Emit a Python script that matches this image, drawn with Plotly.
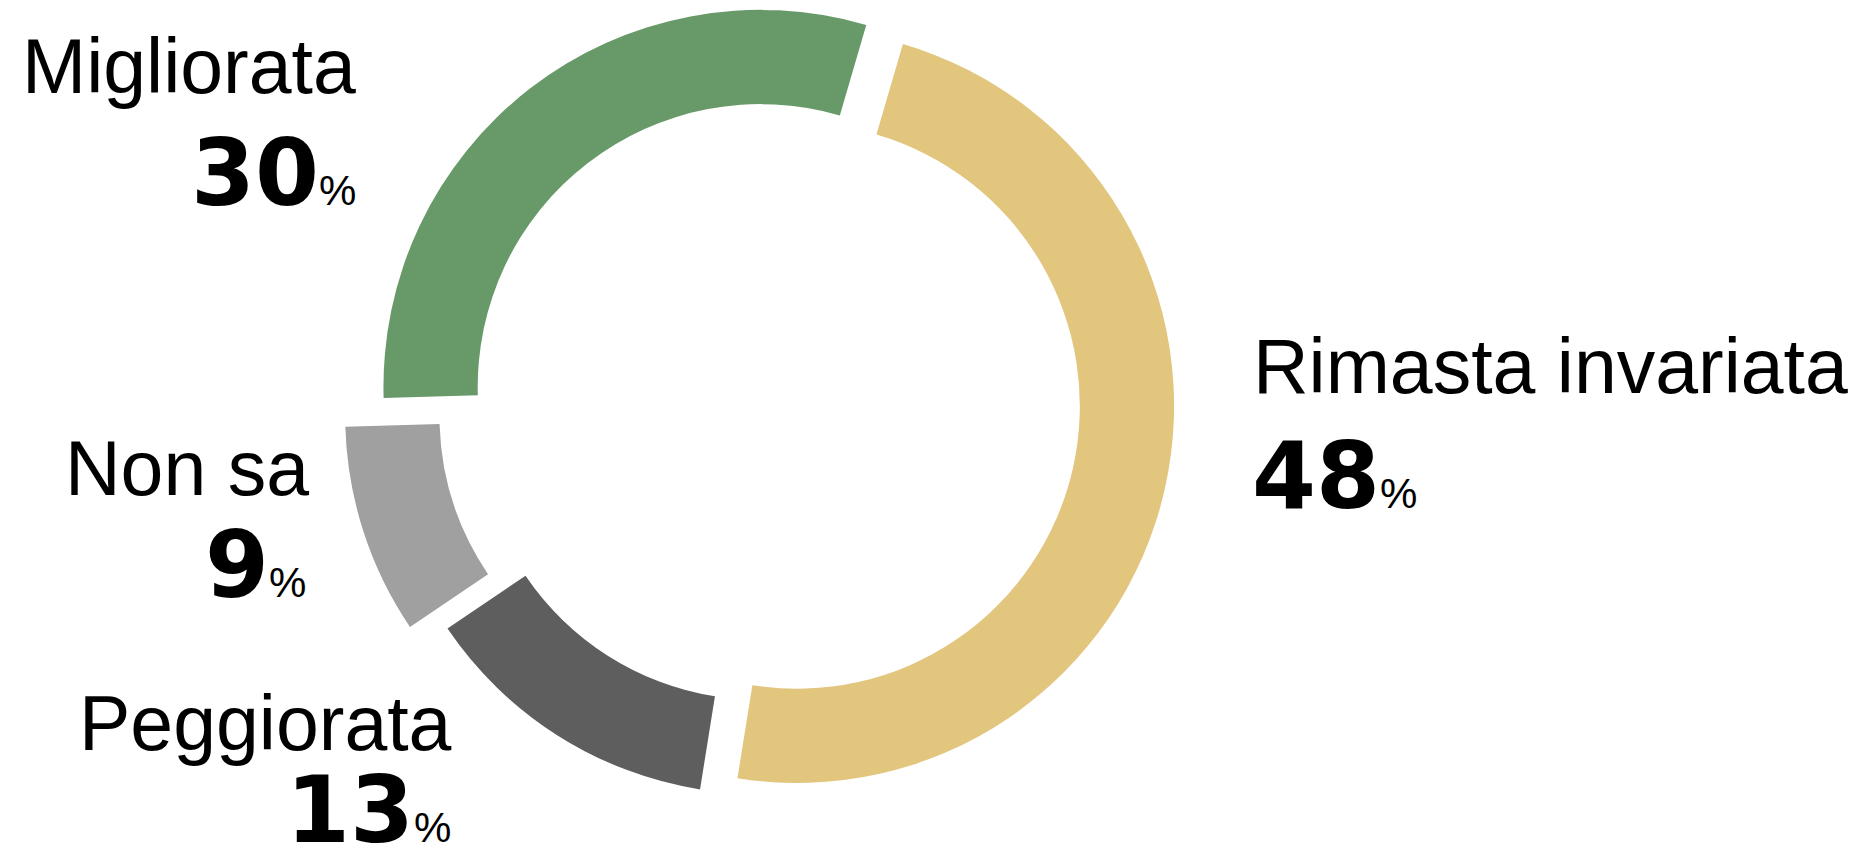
import math
import plotly.graph_objects as go

# ---- data ----
categories = ["Rimasta invariata", "Peggiorata", "Non sa", "Migliorata"]
values = [48, 13, 9, 30]
colors = ["#E2C67E", "#5E5E5E", "#A0A0A0", "#689A69"]
pulls = [0.072, 0.054, 0.135, 0.044]

# ---- geometry / style ----
W, H = 1867, 855
R = 377            # outer radius in px
CX, CY = 770.6, 400.0
ROT = 16.3
HOLE = 0.75

label_layout = {
    # name: (name_x, name_y, num_x, num_y, anchor)
    "Rimasta invariata": (1251, 366, 1250, 476, "left"),
    "Peggiorata": (454, 723, 453, 810, "right"),
    "Non sa": (311, 468, 308, 565, "right"),
    "Migliorata": (358, 66, 358, 174, "right"),
}
NAME_FONT = dict(family="Liberation Sans, Arial, sans-serif", size=77, color="black")
NUM_FONT = dict(family="DejaVu Sans, sans-serif", size=92, color="black")

fig = go.Figure()
total = sum(values)
start = ROT
for i, (cat, v) in enumerate(zip(categories, values)):
    span = 360.0 * v / total
    mid = math.radians(start + span / 2)
    start += span
    cx = CX + pulls[i] * R * math.sin(mid)
    cy = CY - pulls[i] * R * math.cos(mid)
    cols = [colors[j] if j == i else "rgba(0,0,0,0)" for j in range(len(values))]
    fig.add_trace(go.Pie(
        labels=categories, values=values, sort=False, direction="clockwise",
        rotation=ROT, hole=HOLE,
        marker=dict(colors=cols, line=dict(width=0)),
        textinfo="none", hoverinfo="label+percent",
        domain=dict(x=[(cx - R) / W, (cx + R) / W],
                    y=[1 - (cy + R) / H, 1 - (cy - R) / H]),
        showlegend=False,
    ))

annotations = []
for cat, v in zip(categories, values):
    nx, ny, vx, vy, anc = label_layout[cat]
    annotations.append(dict(
        x=nx / W, y=1 - ny / H, xref="paper", yref="paper",
        xanchor=anc, yanchor="middle", showarrow=False,
        text=cat, font=NAME_FONT,
    ))
    annotations.append(dict(
        x=vx / W, y=1 - vy / H, xref="paper", yref="paper",
        xanchor=anc, yanchor="middle", showarrow=False,
        text=f"<b>{v}</b><span style='font-family:Liberation Sans, Arial;font-size:42px;font-weight:normal'>%</span>",
        font=NUM_FONT,
    ))

fig.update_layout(
    width=W, height=H, autosize=False,
    margin=dict(l=0, r=0, t=0, b=0),
    paper_bgcolor="white", plot_bgcolor="white",
    annotations=annotations,
)

fig.write_html("out.html", config={"displayModeBar": False},
               post_script="document.body.style.margin='0px';")
